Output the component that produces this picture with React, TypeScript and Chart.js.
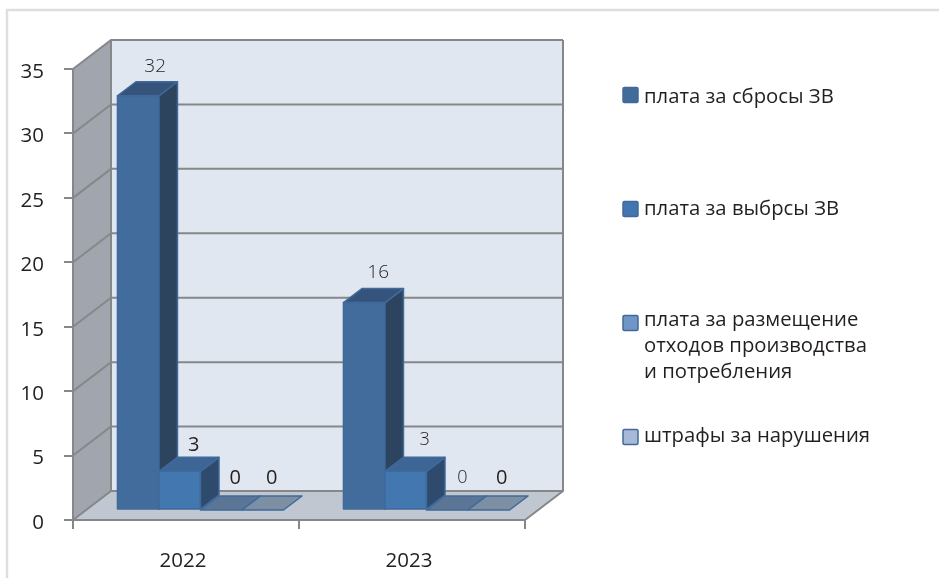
import React, { useEffect, useRef } from "react";
import { Chart, registerables } from "chart.js";

Chart.register(...registerables);

const years = ["2022", "2023"];
const seriesNames = ["плата за сбросы ЗВ", "плата за выбрсы ЗВ", "плата за размещение", "штрафы за нарушения"];
const dischargeFees = [32.15, 16.1];
const emissionFees = [3, 3];
const wasteFees = [0, 0];
const penalties = [0, 0];
const legendLines = [
  ["плата за сбросы ЗВ"],
  ["плата за выбрсы ЗВ"],
  ["плата за размещение", "отходов производства", "и потребления"],
  ["штрафы за нарушения"],
];

const FONT = '"Open Sans", "Noto Sans", sans-serif';
const INK = "#231f20";
const AXIS = "#868789";
const DEPTH = { dx: 38, dy: 29 };
const BAR_SHIFT = { dx: 14.5, dy: 10 };
const BAR_DEPTH = { dx: 18.5, dy: 14 };

const faces = [
  { front: "#416c9b", top: "#36547b", side: "#2d445f", swatch: "#416b98" },
  { front: "#4377b0", top: "#3d6595", side: "#2e4a6d", swatch: "#4376b0" },
  { front: "#5c7596", top: "#5c7596", side: "#3a5474", swatch: "#7096c6" },
  { front: "#7d8fa2", top: "#7d8fa2", side: "#5a6d80", swatch: "#a6bad8" },
];
const EDGE = "#3f6a9b";

// [dx, dy, font px, weight] of each value label, per dataset then per year
const labelStyle = [
  [[17, -15, 19, 300], [14, -16, 19, 300]],
  [[14, -12, 20, 400], [19, -17, 18, 300]],
  [[14, -18, 20, 400], [15, -18, 18, 300]],
  [[9, -18, 20, 400], [13, -18, 20, 500]],
];
const swatchTops = [87, 201, 315, 429];
const legendBaselines = [[103], [215], [326, 352, 378], [442]];

function poly(ctx: CanvasRenderingContext2D, pts: number[][], fill?: string, stroke?: string, lw = 1) {
  ctx.beginPath();
  pts.forEach(([x, y], i) => (i ? ctx.lineTo(x, y) : ctx.moveTo(x, y)));
  ctx.closePath();
  if (fill) {
    ctx.fillStyle = fill;
    ctx.fill();
  }
  if (stroke) {
    ctx.strokeStyle = stroke;
    ctx.lineWidth = lw;
    ctx.lineJoin = "round";
    ctx.stroke();
  }
}

const scene = {
  id: "scene",
  beforeDraw(chart: any) {
    const { ctx, chartArea: a, scales } = chart;
    const { dx, dy } = DEPTH;
    ctx.save();
    ctx.strokeStyle = "#dedede";
    ctx.lineWidth = 2.5;
    ctx.beginPath();
    ctx.moveTo(7, 578);
    ctx.lineTo(7, 10);
    ctx.lineTo(939, 10);
    ctx.stroke();
    poly(ctx, [[a.left + dx, a.top - dy], [a.right + dx, a.top - dy], [a.right + dx, a.bottom - dy], [a.left + dx, a.bottom - dy]], "#e1e7f0");
    poly(ctx, [[a.left, a.top], [a.left + dx, a.top - dy], [a.left + dx, a.bottom - dy], [a.left, a.bottom]], "#a1a6ae");
    poly(ctx, [[a.left, a.bottom], [a.right, a.bottom], [a.right + dx, a.bottom - dy], [a.left + dx, a.bottom - dy]], "#c1c7d0");
    ctx.strokeStyle = AXIS;
    ctx.lineWidth = 2;
    scales.y.ticks.forEach((t: any) => {
      const y = scales.y.getPixelForValue(t.value);
      ctx.beginPath();
      ctx.moveTo(a.left, y);
      ctx.lineTo(a.left + dx, y - dy);
      ctx.lineTo(a.right + dx, y - dy);
      ctx.stroke();
    });
    ctx.beginPath();
    ctx.moveTo(a.left + dx, a.top - dy);
    ctx.lineTo(a.left + dx, a.bottom - dy);
    ctx.moveTo(a.right + dx, a.top - dy);
    ctx.lineTo(a.right + dx, a.bottom - dy);
    ctx.lineTo(a.right, a.bottom);
    ctx.stroke();
    ctx.restore();
  },
  beforeDatasetsDraw(chart: any) {
    chart.ctx.save();
    chart.ctx.translate(BAR_SHIFT.dx, -BAR_SHIFT.dy);
  },
  afterDatasetsDraw(chart: any) {
    const { ctx, data } = chart;
    const { dx, dy } = BAR_DEPTH;
    // left-to-right so each bar hides the side face of its left neighbour
    data.datasets.forEach((_: any, i: number) => {
      const f = faces[i];
      chart.getDatasetMeta(i).data.forEach((bar: any) => {
        const l = bar.x - bar.width / 2;
        const r = bar.x + bar.width / 2;
        const t = bar.y;
        const b = bar.base;
        if (b - t > 0.5) {
          poly(ctx, [[l, t], [r, t], [r, b], [l, b]], f.front, EDGE, 1.5);
          poly(ctx, [[r, t], [r + dx, t - dy], [r + dx, b - dy], [r, b]], f.side, EDGE, 1.5);
        }
        poly(ctx, [[l, t], [r, t], [r + dx, t - dy], [l + dx, t - dy]], f.top, EDGE, 1.5);
      });
    });
    ctx.restore();

    ctx.save();
    ctx.textAlign = "center";
    ctx.textBaseline = "middle";
    ctx.fillStyle = INK;
    data.datasets.forEach((ds: any, i: number) => {
      chart.getDatasetMeta(i).data.forEach((bar: any, j: number) => {
        const [nx, ny, size, weight] = labelStyle[i][j];
        ctx.font = `${weight} ${size}px ${FONT}`;
        const x = bar.x + BAR_SHIFT.dx + nx;
        const y = bar.y - BAR_SHIFT.dy - BAR_DEPTH.dy + ny;
        ctx.fillText(String(Math.round(ds.data[j])), x, y);
      });
    });
    legendLines.forEach((lines, i) => {
      const y = swatchTops[i];
      ctx.beginPath();
      ctx.roundRect(623, y + 0.5, 15, 15, 1.5);
      ctx.fillStyle = faces[i].swatch;
      ctx.fill();
      ctx.strokeStyle = "#42699a";
      ctx.lineWidth = 1.5;
      ctx.stroke();
      ctx.fillStyle = INK;
      ctx.textAlign = "left";
      ctx.textBaseline = "alphabetic";
      ctx.font = `400 20.3px ${FONT}`;
      lines.forEach((line, k) => ctx.fillText(line, 644, legendBaselines[i][k]));
    });
    ctx.restore();
  },
};

export default function App() {
  const ref = useRef<HTMLCanvasElement>(null);
  useEffect(() => {
    const values = [dischargeFees, emissionFees, wasteFees, penalties];
    const chart = new Chart(ref.current as HTMLCanvasElement, {
      type: "bar",
      data: {
        labels: years,
        datasets: values.map((data, i) => ({
          label: seriesNames[i],
          data,
          clip: false,
          backgroundColor: faces[i].front,
          borderColor: EDGE,
          borderWidth: 1.5,
          categoryPercentage: 0.735,
          barPercentage: 1,
        })),
      },
      options: {
        animation: false,
        responsive: false,
        maintainAspectRatio: false,
        layout: { padding: { top: 69, right: 414, left: 0, bottom: 0 } },
        plugins: { legend: { display: false }, tooltip: { enabled: false } },
        scales: {
          x: {
            afterFit: (s: any) => { s.height = 58; },
            grid: { drawOnChartArea: false, tickLength: 9, tickColor: AXIS, lineWidth: 2, offset: true },
            border: { color: AXIS, width: 2 },
            ticks: { color: INK, font: { family: FONT, size: 20.5 }, padding: 20, labelOffset: -3 },
          },
          y: {
            min: 0,
            max: 35,
            afterFit: (s: any) => { s.width = 73; },
            grid: { drawOnChartArea: false, tickLength: 9, tickColor: AXIS, lineWidth: 2 },
            border: { color: AXIS, width: 2 },
            ticks: { stepSize: 5, color: INK, font: { family: FONT, size: 20.5 }, padding: 20, labelOffset: 3 },
          },
        },
      },
      plugins: [scene],
    } as any);
    return () => chart.destroy();
  }, []);
  return (
    <div style={{ position: "fixed", left: 0, top: 0, width: 939, height: 578, background: "#fff" }}>
      <canvas ref={ref} width={939} height={578} style={{ display: "block" }} />
    </div>
  );
}
